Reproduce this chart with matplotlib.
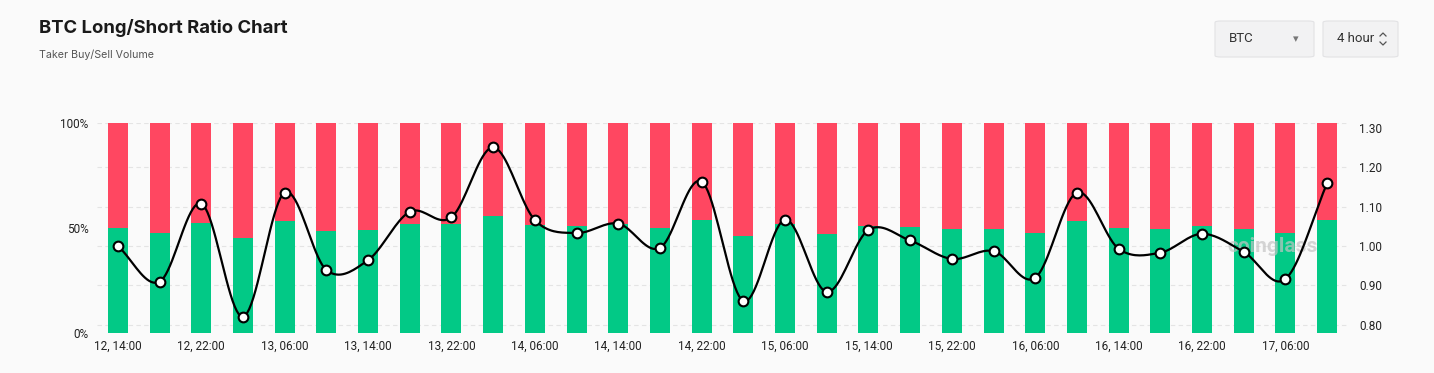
from matplotlib import pyplot
from matplotlib.patches import FancyBboxPatch
from matplotlib.lines import Line2D
import numpy

# 4h buckets, 12 14:00 -> 17 10:00
hours = ['14:00', '18:00', '22:00', '02:00', '06:00', '10:00']
days = [12, 12, 12, 13, 13, 13, 13, 13, 13, 14, 14, 14, 14, 14, 14,
        15, 15, 15, 15, 15, 15, 16, 16, 16, 16, 16, 16, 17, 17, 17]
times = [hours[i % 6] for i in range(30)]
labels = ['%d, %s' % (d, t) for d, t in zip(days, times)]

long_pct = [50.2, 47.6, 52.4, 45.1, 53.2, 48.4, 49.2, 52.1, 51.8, 55.6,
            51.6, 50.8, 52.1, 50.0, 54.0, 46.4, 52.1, 47.0, 51.0, 50.3,
            49.4, 49.7, 47.8, 53.2, 49.9, 49.5, 50.8, 49.7, 47.6, 53.7]
ratio = [1.000, 0.909, 1.108, 0.820, 1.136, 0.939, 0.964, 1.087, 1.073, 1.251,
         1.066, 1.033, 1.057, 0.995, 1.164, 0.860, 1.067, 0.883, 1.041, 1.014,
         0.967, 0.987, 0.919, 1.136, 0.993, 0.983, 1.031, 0.985, 0.916, 1.160]
short_pct = [100 - v for v in long_pct]

GREEN = '#02c986'
RED = '#ff4761'
BG = '#fafafa'
RLIM = (0.7786, 1.313)


def catmull_rom(x, y, n=20):
    # smooth curve through the points, for drawing only
    px = numpy.concatenate([[2 * x[0] - x[1]], x, [2 * x[-1] - x[-2]]])
    py = numpy.concatenate([[2 * y[0] - y[1]], y, [2 * y[-1] - y[-2]]])
    xs, ys = [], []
    t = numpy.linspace(0, 1, n, endpoint=False)
    for i in range(1, len(px) - 2):
        for p, out in ((px, xs), (py, ys)):
            p0, p1, p2, p3 = p[i - 1], p[i], p[i + 1], p[i + 2]
            out.extend(0.5 * ((2 * p1) + (-p0 + p2) * t
                              + (2 * p0 - 5 * p1 + 4 * p2 - p3) * t ** 2
                              + (-p0 + 3 * p1 - 3 * p2 + p3) * t ** 3))
    xs.append(x[-1])
    ys.append(y[-1])
    return numpy.array(xs), numpy.array(ys)


pyplot.rcParams['font.family'] = ['Roboto', 'DejaVu Sans']

fig = pyplot.figure(figsize=(14.34, 3.73), dpi=100, facecolor=BG)
ax = fig.add_axes([97 / 1434, 40 / 373, 1251 / 1434, 210 / 373])
ax.set_facecolor(BG)
ax2 = ax.twinx()

x = numpy.arange(len(long_pct))
ax.bar(x, long_pct, width=0.48, color=GREEN, zorder=3)
ax.bar(x, short_pct, bottom=long_pct, width=0.48, color=RED, zorder=3)
ax.set_xlim(-0.5, len(x) - 0.5)
ax.set_ylim(0, 100)
ax.set_yticks([0, 50, 100])
ax.set_yticklabels(['0%', '50%', '100%'])
ax.set_xticks(x[::2])
ax.set_xticklabels(labels[::2])

ax2.set_ylim(*RLIM)
rticks = [0.8, 0.9, 1.0, 1.1, 1.2, 1.3]
ax2.set_yticks(rticks)
ax2.set_yticklabels(['%.2f' % v for v in rticks])

# dashed grid behind the bars (right-axis ticks mapped onto the left scale)
grid_pct = [(v - RLIM[0]) / (RLIM[1] - RLIM[0]) * 100 for v in rticks[:-1]] + [100]
for g in grid_pct:
    ax.axhline(g, color='#e4e4e4', lw=0.8, ls=(0, (4, 3)), zorder=1)

sx, sy = catmull_rom(x.astype(float), numpy.array(ratio))
ax2.plot(sx, sy, color='black', lw=1.6, zorder=4)
ax2.plot(x, ratio, 'o', ms=7, mfc='white', mec='black', mew=1.5, zorder=5)

for a in (ax, ax2):
    for s in a.spines.values():
        s.set_visible(False)
    a.tick_params(length=0, labelsize=8.5, colors='#222222')
ax.tick_params(axis='y', pad=6)
ax2.tick_params(axis='y', pad=8)
ax.tick_params(axis='x', pad=5)

ax2.text(0.94, 0.41, 'coinglass', transform=ax.transAxes, fontsize=15,
         fontweight='bold', color='#c4c4c4', alpha=0.7, ha='center', va='center', zorder=3)

fig.text(39 / 1434, 1 - 28 / 373, 'BTC Long/Short Ratio Chart', fontsize=13.3,
         fontweight='bold', color='#1a1a1a', family=['Inter', 'DejaVu Sans'], va='center')
fig.text(39 / 1434, 1 - 55 / 373, 'Taker Buy/Sell Volume', fontsize=7.7,
         color='#555555', family=['Inter', 'DejaVu Sans'], va='center')

# selector boxes
for x0, x1, txt in ((1215, 1314, 'BTC'), (1323, 1398, '4 hour')):
    box = FancyBboxPatch((x0 / 1434, 1 - 57 / 373), (x1 - x0) / 1434, 36 / 373,
                         boxstyle='round,pad=0,rounding_size=0.004',
                         transform=fig.transFigure, facecolor='#f2f2f3',
                         edgecolor='#e2e2e4', lw=0.8)
    fig.patches.append(box)
    fig.text((x0 + 14) / 1434, 1 - 39 / 373, txt, fontsize=9.5, color='#333333',
             va='center', ha='left')
fig.text(1296 / 1434, 1 - 39 / 373, '\u25be', fontsize=8, color='#777777',
         va='center', ha='center', family='DejaVu Sans')
for dy in (1, -1):
    y0 = 1 - (39 - dy * 3) / 373
    y1 = 1 - (39 - dy * 6) / 373
    fig.lines.append(Line2D([1380 / 1434, 1383 / 1434, 1386 / 1434], [y0, y1, y0],
                            transform=fig.transFigure, color='#555555', lw=0.9))

fig.savefig('out.png', facecolor=BG)
